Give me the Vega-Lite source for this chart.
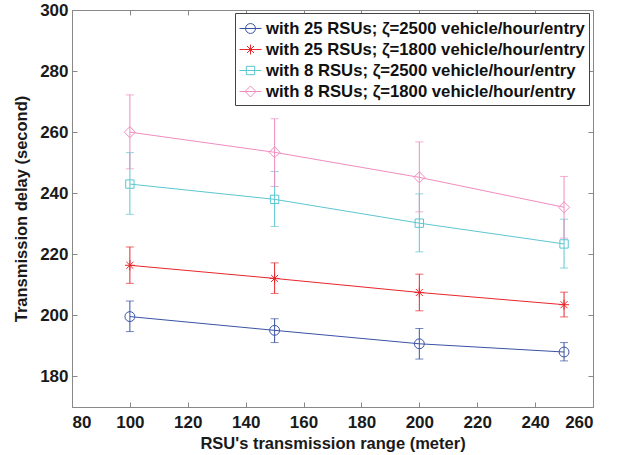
{
  "$schema": "https://vega.github.io/schema/vega-lite/v6.json",
  "width": 521,
  "height": 397,
  "autosize": {"type": "none"},
  "padding": {"left": 72, "top": 10, "right": 31, "bottom": 48},
  "background": "white",
  "config": {
    "view": {"stroke": "#888", "strokeWidth": 1},
    "axis": {
      "domainColor": "#888", "tickColor": "#888", "grid": false, "tickSize": -5,
      "labelFont": "Liberation Sans", "labelFontSize": 17, "labelFontWeight": "bold", "labelColor": "#1a1a1a",
      "titleFont": "Liberation Sans", "titleFontSize": 16.5, "titleFontWeight": "bold", "titleColor": "#1a1a1a"
    },
    "legend": {
      "orient": "none", "legendX": 163, "legendY": 3,
      "strokeColor": "#444", "fillColor": "white", "padding": 4,
      "labelFont": "Liberation Sans", "labelFontSize": 16.7, "labelFontWeight": "bold", "labelColor": "#111",
      "symbolSize": 484, "symbolStrokeWidth": 1, "symbolFillColor": "transparent", "rowPadding": -1, "labelOffset": 4, "labelLimit": 400
    }
  },
  "data": {
    "values": [
      {"series": "with 25 RSUs; ζ=2500 vehicle/hour/entry", "range": 100, "delay": 199.6, "lo": 194.7, "hi": 204.7},
      {"series": "with 25 RSUs; ζ=2500 vehicle/hour/entry", "range": 150, "delay": 195.1, "lo": 191.1, "hi": 198.9},
      {"series": "with 25 RSUs; ζ=2500 vehicle/hour/entry", "range": 200, "delay": 190.7, "lo": 185.7, "hi": 195.7},
      {"series": "with 25 RSUs; ζ=2500 vehicle/hour/entry", "range": 250, "delay": 188.0, "lo": 185.1, "hi": 191.1},
      {"series": "with 25 RSUs; ζ=1800 vehicle/hour/entry", "range": 100, "delay": 216.4, "lo": 210.5, "hi": 222.4},
      {"series": "with 25 RSUs; ζ=1800 vehicle/hour/entry", "range": 150, "delay": 212.1, "lo": 207.2, "hi": 217.2},
      {"series": "with 25 RSUs; ζ=1800 vehicle/hour/entry", "range": 200, "delay": 207.5, "lo": 201.5, "hi": 213.5},
      {"series": "with 25 RSUs; ζ=1800 vehicle/hour/entry", "range": 250, "delay": 203.5, "lo": 199.5, "hi": 207.6},
      {"series": "with 8 RSUs; ζ=2500 vehicle/hour/entry", "range": 100, "delay": 243.0, "lo": 233.1, "hi": 253.3},
      {"series": "with 8 RSUs; ζ=2500 vehicle/hour/entry", "range": 150, "delay": 238.0, "lo": 229.1, "hi": 247.1},
      {"series": "with 8 RSUs; ζ=2500 vehicle/hour/entry", "range": 200, "delay": 230.2, "lo": 220.8, "hi": 239.8},
      {"series": "with 8 RSUs; ζ=2500 vehicle/hour/entry", "range": 250, "delay": 223.4, "lo": 215.5, "hi": 231.5},
      {"series": "with 8 RSUs; ζ=1800 vehicle/hour/entry", "range": 100, "delay": 260.0, "lo": 248.0, "hi": 272.2},
      {"series": "with 8 RSUs; ζ=1800 vehicle/hour/entry", "range": 150, "delay": 253.4, "lo": 242.2, "hi": 264.4},
      {"series": "with 8 RSUs; ζ=1800 vehicle/hour/entry", "range": 200, "delay": 245.2, "lo": 233.9, "hi": 256.8},
      {"series": "with 8 RSUs; ζ=1800 vehicle/hour/entry", "range": 250, "delay": 235.4, "lo": 225.3, "hi": 245.5}
    ]
  },
  "resolve": {"axis": {"x": "independent", "y": "independent"}, "legend": {"color": "independent", "shape": "independent"}},
  "layer": [
    {
      "mark": {"type": "line", "strokeWidth": 1},
      "encoding": {
        "x": {"field": "range", "type": "quantitative", "scale": {"domain": [80, 260], "nice": false},
              "axis": {"values": [80,100,120,140,160,180,200,220,240,260], "title": "RSU's transmission range (meter)", "labelPadding": 12, "titlePadding": 5}},
        "y": {"field": "delay", "type": "quantitative", "scale": {"domain": [170, 300], "nice": false, "zero": false},
              "axis": {"values": [180,200,220,240,260,280,300], "title": "Transmission delay (second)", "labelPadding": 9, "titlePadding": 10}},
        "color": {"field": "series", "type": "nominal", "title": null,
                  "scale": {"domain": ["with 25 RSUs; ζ=2500 vehicle/hour/entry", "with 25 RSUs; ζ=1800 vehicle/hour/entry", "with 8 RSUs; ζ=2500 vehicle/hour/entry", "with 8 RSUs; ζ=1800 vehicle/hour/entry"],
                            "range": ["#3953a4", "#e8262b", "#5cc6d0", "#f08cbf"]},
                  "legend": {"title": null,
                    "encode": {"symbols": {"update": {
                      "fill": {"value": "transparent"},
                      "strokeWidth": {"value": 1},
                      "shape": {"signal": "datum.index === 0 ? 'M-1,0H1M0.45,0A0.45,0.45 0 1 1 -0.45,0A0.45,0.45 0 1 1 0.45,0' : datum.index === 1 ? 'M-1,0H1M0,-0.45V0.45M-0.32,-0.32L0.32,0.32M-0.32,0.32L0.32,-0.32' : datum.index === 2 ? 'M-1,0H1M-0.38,-0.38H0.38V0.38H-0.38Z' : 'M-1,0H1M0,-0.5L0.5,0L0,0.5L-0.5,0Z'"}}}}}}
      }
    },
    {
      "mark": {"type": "errorbar", "ticks": {"size": 8}, "rule": {"strokeWidth": 1}},
      "encoding": {
        "x": {"field": "range", "type": "quantitative", "axis": null},
        "y": {"field": "lo", "type": "quantitative", "axis": null},
        "y2": {"field": "hi"},
        "color": {"field": "series", "type": "nominal", "title": null, "legend": null}
      }
    },
    {
      "mark": {"type": "point", "filled": false, "size": 484, "strokeWidth": 1, "opacity": 1},
      "encoding": {
        "x": {"field": "range", "type": "quantitative", "axis": null},
        "y": {"field": "delay", "type": "quantitative", "axis": null},
        "color": {"field": "series", "type": "nominal", "title": null, "legend": null},
        "shape": {"field": "series", "type": "nominal", "title": null, "legend": null,
                  "scale": {"domain": ["with 25 RSUs; ζ=2500 vehicle/hour/entry", "with 25 RSUs; ζ=1800 vehicle/hour/entry", "with 8 RSUs; ζ=2500 vehicle/hour/entry", "with 8 RSUs; ζ=1800 vehicle/hour/entry"],
                            "range": ["M0.45,0A0.45,0.45 0 1 1 -0.45,0A0.45,0.45 0 1 1 0.45,0", "M-0.45,0H0.45M0,-0.45V0.45M-0.32,-0.32L0.32,0.32M-0.32,0.32L0.32,-0.32", "M-0.38,-0.38H0.38V0.38H-0.38Z", "M0,-0.5L0.5,0L0,0.5L-0.5,0Z"]}}
      }
    },
    {
      "mark": {"type": "point", "opacity": 0},
      "encoding": {
        "x": {"field": "range", "type": "quantitative",
              "axis": {"orient": "top", "values": [80,100,120,140,160,180,200,220,240,260], "labels": false, "title": null, "domain": false}},
        "y": {"field": "delay", "type": "quantitative",
              "axis": {"orient": "right", "values": [180,200,220,240,260,280,300], "labels": false, "title": null, "domain": false}}
      }
    }
  ]
}
